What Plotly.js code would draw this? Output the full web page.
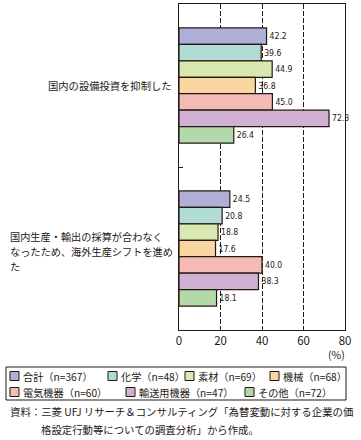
<!DOCTYPE html>
<html>
<head>
<meta charset="utf-8">
<script src="https://cdn.plot.ly/plotly-3.0.1.min.js"></script>
<style>
  html, body { margin: 0; padding: 0; background: #fff; }
  #chart { width: 361px; height: 440px; }
</style>
</head>
<body>
<div id="chart"></div>
<script>
// ---- data ----
var categories = [
  '国内の設備投資を抑制した',
  '国内生産・輸出の採算が合わなく<br>なったため、海外生産シフトを進め<br>た'
];
var seriesNames = ['合計（n=367）', '化学（n=48）', '素材（n=69）', '機械（n=68）',
                   '電気機器（n=60）', '輸送用機器（n=47）', 'その他（n=72）'];
var total      = [42.2, 24.5];
var chemical   = [39.6, 20.8];
var materials  = [44.9, 18.8];
var machinery  = [36.8, 17.6];
var electrical = [45.0, 40.0];
var transport  = [72.3, 38.3];
var others     = [26.4, 18.1];
var xTickVals  = [0, 20, 40, 60, 80];
var xTickText  = ['0', '20', '40', '60', '80'];
var unitLabel  = '(%)';
var sourceLines = ['資料：三菱 UFJ リサーチ＆コンサルティング「為替変動に対する企業の価',
                   '格設定行動等についての調査分析」から作成。'];

// ---- styles ----
var seriesValues = [total, chemical, materials, machinery, electrical, transport, others];
var colors = ['#AFAFD7', '#B1DCD6', '#D9E8B1', '#FAD7A0', '#F4BBB6', '#D1B1D3', '#B3D9AA'];
var edge = '#231815';
var jp = '"Noto Sans CJK JP", "Noto Sans", sans-serif';
var num = '"Liberation Sans Narrow", "DejaVu Sans Condensed", sans-serif';

var W = 361, H = 440;
var M = {l: 179, r: 16, t: 4, b: 110};
var plotW = W - M.l - M.r, plotH = H - M.t - M.b;
function px(p) { return (p - M.l) / plotW; }
function py(p) { return (M.t + plotH - p) / plotH; }

var traces = seriesNames.map(function (name, i) {
  return {
    type: 'bar',
    orientation: 'h',
    name: name,
    y: categories,
    x: seriesValues[i],
    marker: {color: colors[i], line: {color: edge, width: 1.2}},
    text: seriesValues[i].map(function (v) { return v.toFixed(1); }),
    textposition: 'outside',
    textfont: {family: num, size: 8.6, color: '#231815'},
    cliponaxis: false,
    showlegend: false,
    hoverinfo: 'skip'
  };
});

var annotations = [];
// category labels (one annotation per line, left-aligned block ending at the axis)
annotations.push({
  xref: 'paper', yref: 'y', x: px(174), y: categories[0], xanchor: 'right', yanchor: 'middle',
  text: categories[0], showarrow: false, font: {family: jp, size: 10.3, color: '#231815'}
});
var lines2 = categories[1].split('<br>');
lines2.forEach(function (ln, k) {
  annotations.push({
    xref: 'paper', yref: 'y', x: px(8), y: categories[1], xanchor: 'left', yanchor: 'middle',
    yshift: -((k - (lines2.length - 1) / 2) * 14.6) - 3, text: ln, showarrow: false,
    font: {family: jp, size: 10.2, color: '#231815'}
  });
});
// unit
annotations.push({
  xref: 'paper', yref: 'paper', x: px(347), y: py(354), xanchor: 'right', yanchor: 'middle',
  text: unitLabel, showarrow: false, font: {family: jp, size: 10.5, color: '#231815'}
});
// source
annotations.push({
  xref: 'paper', yref: 'paper', x: px(8), y: py(411), xanchor: 'left', yanchor: 'middle',
  text: sourceLines[0], showarrow: false, font: {family: jp, size: 10.4, color: '#231815'}
});
annotations.push({
  xref: 'paper', yref: 'paper', x: px(39), y: py(429), xanchor: 'left', yanchor: 'middle',
  text: sourceLines[1], showarrow: false, font: {family: jp, size: 10.4, color: '#231815'}
});

// legend (custom, two rows inside a box)
var shapes = [];
shapes.push({type: 'rect', xref: 'paper', yref: 'paper',
  x0: px(6), x1: px(346), y0: py(367), y1: py(400),
  line: {color: edge, width: 1}, fillcolor: 'rgba(0,0,0,0)'});
var legendPos = [[10, 376], [108, 376], [185, 376], [270, 376],
                 [10, 392], [126, 392], [245, 392]];
seriesNames.forEach(function (name, i) {
  var sx = legendPos[i][0], sy = legendPos[i][1];
  shapes.push({type: 'rect', xref: 'paper', yref: 'paper',
    x0: px(sx), x1: px(sx + 9), y0: py(sy - 4.5), y1: py(sy + 4.5),
    line: {color: edge, width: 1}, fillcolor: colors[i]});
  annotations.push({xref: 'paper', yref: 'paper', x: px(sx + 11), y: py(sy),
    xanchor: 'left', yanchor: 'middle', text: name, showarrow: false,
    font: {family: jp, size: 10.2, color: '#231815'}});
});

var layout = {
  width: W, height: H,
  margin: M,
  paper_bgcolor: '#fff', plot_bgcolor: '#fff',
  barmode: 'group', bargap: 0.294, bargroupgap: 0,
  showlegend: false,
  xaxis: {
    range: [0, 80], tickvals: xTickVals, ticktext: xTickText,
    showgrid: true, gridcolor: '#231815', gridwidth: 1, griddash: '5px,2px',
    zeroline: false, showline: true, linecolor: edge, linewidth: 1.3, mirror: true,
    ticks: '', tickfont: {family: jp, size: 11.5, color: '#231815'}, fixedrange: true
  },
  yaxis: {
    type: 'category', categoryorder: 'array', categoryarray: categories,
    range: [1.5, -0.5], tickson: 'boundaries', ticks: 'inside', ticklen: 4,
    tickcolor: edge, tickwidth: 1, showticklabels: false, showgrid: false,
    zeroline: false, showline: true, linecolor: edge, linewidth: 1.3, mirror: true,
    fixedrange: true
  },
  annotations: annotations,
  shapes: shapes
};

Plotly.newPlot('chart', traces, layout, {displayModeBar: false, staticPlot: true});
</script>
</body>
</html>
